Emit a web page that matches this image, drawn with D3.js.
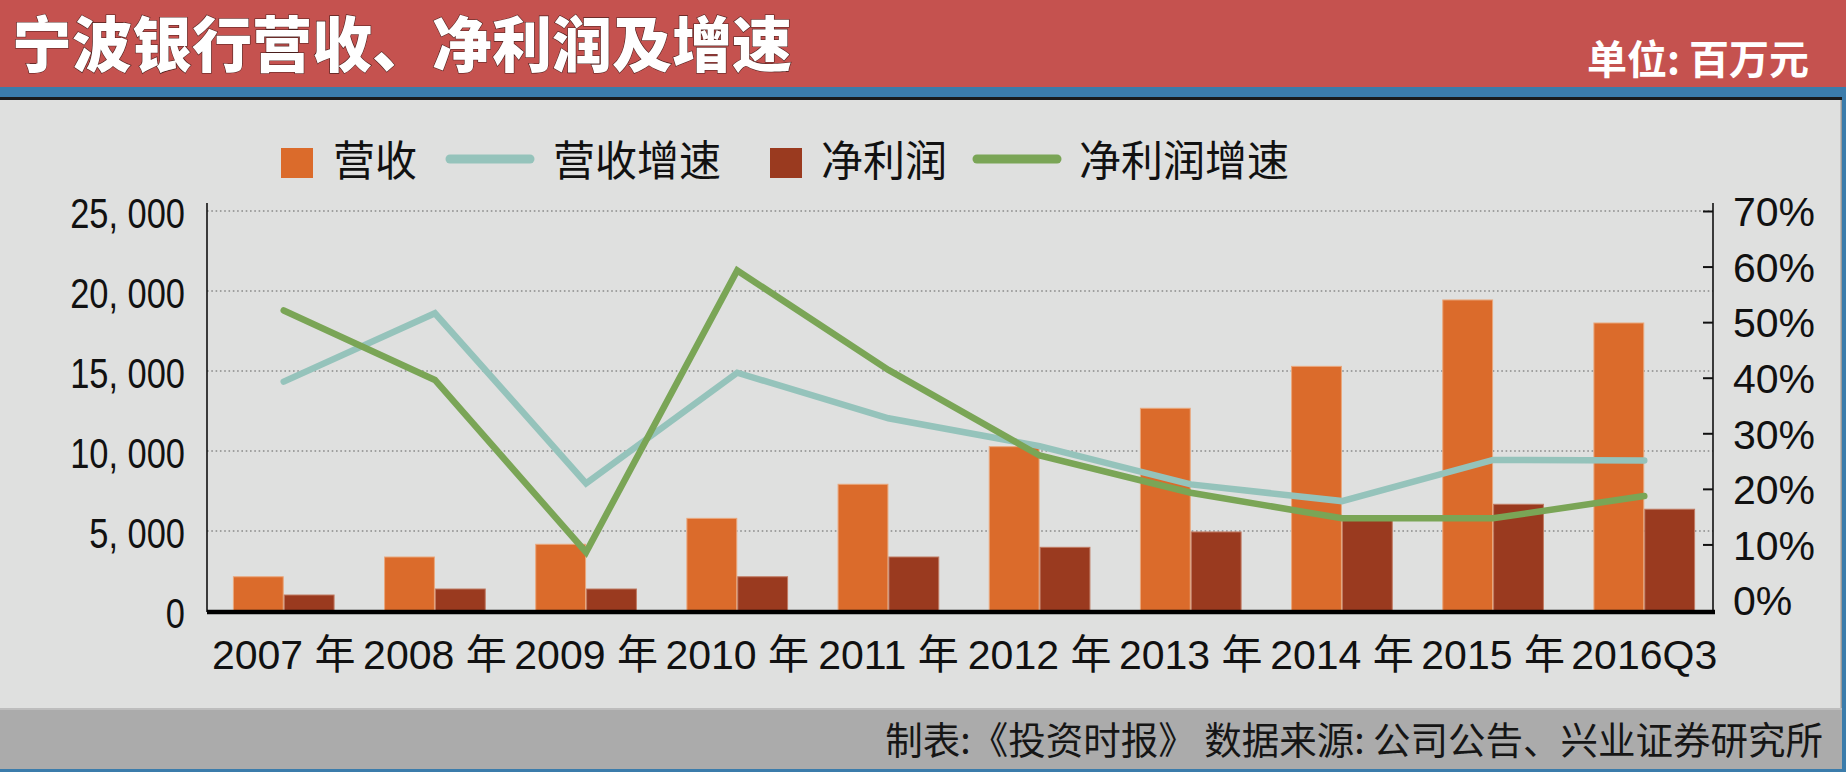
<!DOCTYPE html>
<html><head><meta charset="utf-8">
<script src="https://cdn.jsdelivr.net/npm/d3@7"></script>
<style>
html,body{margin:0;padding:0;background:#fff;}
svg{display:block;}
</style></head><body>
<svg id="chart" width="1846" height="772"></svg>
<script>
// ---------- data ----------
const categories = ["2007 年","2008 年","2009 年","2010 年","2011 年","2012 年","2013 年","2014 年","2015 年","2016Q3"];
const revenue = [2140, 3375, 4170, 5790, 7920, 10270, 12670, 15290, 19440, 18000];
const netProfit = [1000, 1375, 1375, 2140, 3375, 3980, 4940, 5690, 6670, 6360];
const revenueGrowth = [39.3, 51.6, 21.0, 40.9, 32.7, 27.7, 20.8, 17.8, 25.2, 25.1];
const profitGrowth = [52.1, 39.6, 8.6, 59.3, 41.4, 26.0, 19.3, 14.7, 14.7, 18.7];
const leftTicks = [0, 5000, 10000, 15000, 20000, 25000];
const rightTicks = [0, 10, 20, 30, 40, 50, 60, 70];
const seriesNames = ["营收", "营收增速", "净利润", "净利润增速"];
const titleText = "宁波银行营收、净利润及增速";
const unitText = "单位: 百万元";
const sourceText = "制表:《投资时报》 数据来源: 公司公告、兴业证券研究所";

// ---------- style ----------
const C = {
  red: "#C5524F", blue: "#3B7CAB", bg: "#DFE0DF", footer: "#ABABAB",
  orange: "#DB6B2B", dark: "#9A3A1F", teal: "#95C3BB", green: "#7AA556"
};
const W = 1846, H = 772;
const plot = { left: 207, right: 1713, top: 203, base: 612 };

const svg = d3.select("#chart");

// background & frame
svg.append("rect").attr("width", W).attr("height", H).attr("fill", C.bg);
svg.append("rect").attr("x", 0).attr("y", 0).attr("width", W).attr("height", 88).attr("fill", C.red);
svg.append("rect").attr("x", 0).attr("y", 87).attr("width", W).attr("height", 10).attr("fill", C.blue);
svg.append("rect").attr("x", 0).attr("y", 97).attr("width", W).attr("height", 3).attr("fill", "#1b1b1b");
svg.append("rect").attr("x", 0).attr("y", 708).attr("width", W).attr("height", 61).attr("fill", C.footer);
svg.append("rect").attr("x", 0).attr("y", 708).attr("width", W).attr("height", 2).attr("fill", "#bdbdbd");
svg.append("rect").attr("x", 0).attr("y", 769).attr("width", W).attr("height", 3).attr("fill", C.blue);
svg.append("rect").attr("x", 1842).attr("y", 87).attr("width", 4).attr("height", H - 87).attr("fill", C.blue);
svg.append("rect").attr("x", 1840.5).attr("y", 100).attr("width", 1.5).attr("height", 608).attr("fill", "#9a9a9a");

// header texts
svg.append("text").attr("x", 12).attr("y", 67)
  .attr("font-family", "'Noto Sans CJK SC'").attr("font-weight", 900).attr("font-size", 60)
  .attr("fill", "#fff").attr("stroke", "#4a1e1c").attr("stroke-width", 1.2).attr("paint-order", "stroke")
  .text(titleText);
svg.append("text").attr("x", 1809).attr("y", 74).attr("text-anchor", "end")
  .attr("font-family", "'Noto Sans CJK SC'").attr("font-weight", 700).attr("font-size", 40)
  .attr("fill", "#fff").text(unitText);

// footer text
svg.append("text").attr("x", 1823).attr("y", 754).attr("text-anchor", "end")
  .attr("font-family", "'Noto Sans CJK SC'").attr("font-weight", 400).attr("font-size", 37.5)
  .attr("fill", "#161616").text(sourceText);

// ---------- scales ----------
const x = d3.scaleBand().domain(categories).range([208, 1720]).paddingInner(0.334).paddingOuter(0.168);
const xSub = d3.scaleBand().domain(["rev", "np"]).range([0, x.bandwidth()]).paddingInner(0.02);
const yL = d3.scaleLinear().domain([0, 25000]).range([611, 211]);
const yR = d3.scaleLinear().domain([0, 70]).range([600, 211]);

// grid
const g = svg.append("g");
g.selectAll("line.grid").data(leftTicks.filter(d => d > 0)).join("line")
  .attr("x1", plot.left).attr("x2", plot.right)
  .attr("y1", d => yL(d)).attr("y2", d => yL(d))
  .attr("stroke", "#8a8a8a").attr("stroke-width", 1.6).attr("stroke-dasharray", "1.6 2.7");

// left axis (condensed digits)
const fmt = d3.format(",");
const sx = 0.82;
const leftAxis = d3.axisLeft(yL).tickValues(leftTicks).tickSize(0).tickPadding(22)
  .tickFormat(d => fmt(d).replace(",", ", "));
const gl = svg.append("g").attr("transform", `translate(${plot.left},0)`).call(leftAxis);
gl.select(".domain").remove();
gl.selectAll("text").attr("font-family", "'Liberation Sans',Arial,sans-serif")
  .attr("font-size", 42).attr("fill", "#111").attr("dy", "0.4em")
  .attr("x", -22 / sx).attr("transform", `scale(${sx},1)`);

// right axis
const rightAxis = d3.axisRight(yR).tickValues(rightTicks).tickSizeInner(-10).tickSizeOuter(0).tickPadding(20)
  .tickFormat(d => d + "%");
const gr = svg.append("g").attr("transform", `translate(${plot.right},0)`).call(rightAxis);
gr.select(".domain").remove();
gr.selectAll(".tick line").attr("stroke", "#111").attr("stroke-width", 2)
  .attr("display", d => d === 0 ? "none" : null);
gr.selectAll("text").attr("font-family", "'Liberation Sans',Arial,sans-serif")
  .attr("font-size", 41).attr("fill", "#111").attr("dy", "0.36em");

// axis lines
svg.append("line").attr("x1", plot.left).attr("x2", plot.left).attr("y1", plot.top).attr("y2", plot.base)
  .attr("stroke", "#111").attr("stroke-width", 1.6);
svg.append("line").attr("x1", plot.right).attr("x2", plot.right).attr("y1", plot.top).attr("y2", plot.base)
  .attr("stroke", "#111").attr("stroke-width", 1.6);

// bars
const barData = categories.map((c, i) => ({ c, rev: revenue[i], np: netProfit[i] }));
const bg = svg.append("g");
bg.selectAll("rect.rev").data(barData).join("rect").attr("class", "rev")
  .attr("x", d => x(d.c) + xSub("rev")).attr("width", xSub.bandwidth())
  .attr("y", d => yL(d.rev)).attr("height", d => yL(0) - yL(d.rev))
  .attr("fill", C.orange).attr("stroke", "#eaa77c").attr("stroke-width", 1);
bg.selectAll("rect.np").data(barData).join("rect").attr("class", "np")
  .attr("x", d => x(d.c) + xSub("np")).attr("width", xSub.bandwidth())
  .attr("y", d => yL(d.np)).attr("height", d => yL(0) - yL(d.np))
  .attr("fill", C.dark).attr("stroke", "#c07a62").attr("stroke-width", 1);

// baseline
svg.append("line").attr("x1", plot.left).attr("x2", plot.right + 2).attr("y1", plot.base).attr("y2", plot.base)
  .attr("stroke", "#000").attr("stroke-width", 4.5);

// lines
const cx = c => x(c) + x.bandwidth() / 2;
const lineGen = vals => d3.line().x((d, i) => cx(categories[i])).y(d => yR(d))(vals);
svg.append("path").attr("d", lineGen(revenueGrowth)).attr("fill", "none")
  .attr("stroke", C.teal).attr("stroke-width", 6.5).attr("stroke-linecap", "round").attr("stroke-linejoin", "miter");
svg.append("path").attr("d", lineGen(profitGrowth)).attr("fill", "none")
  .attr("stroke", C.green).attr("stroke-width", 6.5).attr("stroke-linecap", "round").attr("stroke-linejoin", "miter");

// x axis labels
const bottomAxis = d3.axisBottom(x).tickSize(0).tickPadding(28);
const gb = svg.append("g").attr("transform", `translate(0,${plot.base})`).call(bottomAxis);
gb.select(".domain").remove();
gb.selectAll("text").attr("font-family", "'Liberation Sans','Noto Sans CJK SC',sans-serif")
  .attr("font-size", 41).attr("fill", "#111");

// legend
const legendLayout = [
  { type: "rect", color: C.orange, mx: 281, tx: 333 },
  { type: "line", color: C.teal, mx: 446, tx: 553 },
  { type: "rect", color: C.dark, mx: 770, tx: 821 },
  { type: "line", color: C.green, mx: 973, tx: 1079 }
];
const lg = svg.append("g");
legendLayout.forEach((it, i) => {
  if (it.type === "rect") {
    lg.append("rect").attr("x", it.mx).attr("y", 148).attr("width", 32).attr("height", 30).attr("fill", it.color);
  } else {
    lg.append("line").attr("x1", it.mx + 4).attr("x2", it.mx + 84).attr("y1", 159).attr("y2", 159)
      .attr("stroke", it.color).attr("stroke-width", 9).attr("stroke-linecap", "round");
  }
  lg.append("text").attr("x", it.tx).attr("y", 176)
    .attr("font-family", "'Noto Sans CJK SC'").attr("font-weight", 400).attr("font-size", 42)
    .attr("fill", "#111").text(seriesNames[i]);
});
</script>
</body></html>
